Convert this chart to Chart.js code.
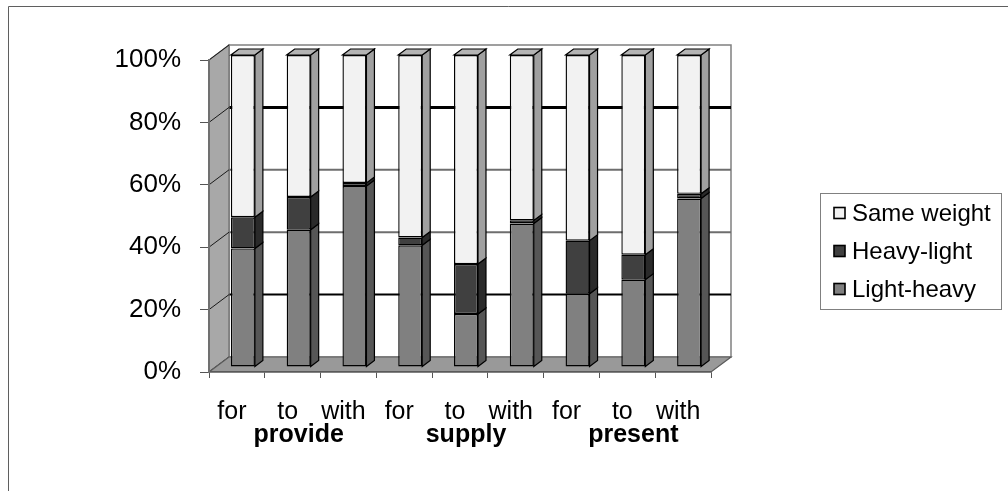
<!DOCTYPE html>
<html>
<head>
<meta charset="utf-8">
<script src="https://cdn.jsdelivr.net/npm/chart.js@4.4.1/dist/chart.umd.min.js"></script>
<style>
  html, body { margin: 0; padding: 0; background: #fff; }
  #wrap { width: 1008px; height: 491px; position: relative; }
</style>
</head>
<body>
<div id="wrap"><canvas id="chart" width="1008" height="491"></canvas></div>
<script>
// Preposition categories, grouped by verb
const categories = ['for', 'to', 'with', 'for', 'to', 'with', 'for', 'to', 'with'];
const groups = ['provide', 'supply', 'present'];

// Share of each weight pattern (percent of each bar)
const lightHeavy  = [38, 44, 58, 39, 17, 46, 23.5, 28, 54];
const heavyLight  = [10, 10.5, 1, 2.5, 16, 1, 17, 8, 1.5];
const sameWeight  = [52, 45.5, 41, 58.5, 67, 53, 59.5, 64, 44.5];

// Value-axis ticks
const yTicks = [0, 20, 40, 60, 80, 100];

const FONT = "'Liberation Sans', Arial, sans-serif";
Chart.defaults.font.family = FONT;
Chart.defaults.color = '#000';

// Group names sit under the middle preposition of each verb
const groupTicks = categories.map((c, i) => (i % 3 === 1 ? groups[(i - 1) / 3] : ''));

// 3D look: depth of the box, bar offset inside it, and bar thickness
const WALL = { dx: 20, dy: -15 };
const SHIFT = { dx: 6, dy: -5 };
const BAR = { dx: 8, dy: -6 };

const series = [
  { label: 'Light-heavy', data: lightHeavy, front: '#808080', side: '#565656', top: '#6a6a6a' },
  { label: 'Heavy-light', data: heavyLight, front: '#404040', side: '#2a2a2a', top: '#333333' },
  { label: 'Same weight', data: sameWeight, front: '#f2f2f2', side: '#a0a0a0', top: '#b4b4b4' }
];

// Back-wall gridline styling per value
const gridStyle = {
  20: { color: '#000000', width: 2 },
  40: { color: '#6e6e6e', width: 2 },
  60: { color: '#6e6e6e', width: 2 },
  80: { color: '#000000', width: 3 }
};

function poly(ctx, pts, fill, stroke, lw) {
  ctx.beginPath();
  ctx.moveTo(pts[0][0], pts[0][1]);
  for (let i = 1; i < pts.length; i++) ctx.lineTo(pts[i][0], pts[i][1]);
  ctx.closePath();
  if (fill) { ctx.fillStyle = fill; ctx.fill(); }
  if (stroke) { ctx.strokeStyle = stroke; ctx.lineWidth = lw || 1; ctx.stroke(); }
}

const box3d = {
  id: 'box3d',
  beforeDraw(chart) {
    const { ctx, chartArea: a, scales: { y } } = chart;
    ctx.save();
    // back wall
    poly(ctx, [[a.left + WALL.dx, a.top + WALL.dy], [a.right + WALL.dx, a.top + WALL.dy],
               [a.right + WALL.dx, a.bottom + WALL.dy], [a.left + WALL.dx, a.bottom + WALL.dy]],
         '#ffffff', '#808080', 1.5);
    // gridlines across the back wall
    yTicks.forEach(v => {
      const st = gridStyle[v];
      if (!st) return;
      const py = y.getPixelForValue(v);
      ctx.beginPath();
      ctx.moveTo(a.left + WALL.dx, py + WALL.dy);
      ctx.lineTo(a.right + WALL.dx, py + WALL.dy);
      ctx.strokeStyle = st.color; ctx.lineWidth = st.width; ctx.stroke();
    });
    // left wall with its diagonal gridlines
    poly(ctx, [[a.left, a.bottom], [a.left, a.top], [a.left + WALL.dx, a.top + WALL.dy],
               [a.left + WALL.dx, a.bottom + WALL.dy]], '#a8a8a8', '#6e6e6e', 1.2);
    yTicks.forEach(v => {
      const py = y.getPixelForValue(v);
      ctx.beginPath();
      ctx.moveTo(a.left, py);
      ctx.lineTo(a.left + WALL.dx, py + WALL.dy);
      ctx.strokeStyle = '#1a1a1a'; ctx.lineWidth = 1; ctx.stroke();
    });
    // floor
    poly(ctx, [[a.left, a.bottom], [a.right, a.bottom], [a.right + WALL.dx, a.bottom + WALL.dy],
               [a.left + WALL.dx, a.bottom + WALL.dy]], '#999999', '#5a5a5a', 1.2);
    ctx.restore();
  },
  beforeDatasetsDraw(chart) {
    chart.ctx.save();
    chart.ctx.translate(SHIFT.dx, SHIFT.dy);
  },
  afterDatasetsDraw(chart) {
    const ctx = chart.ctx;
    ctx.restore();
    ctx.save();
    const last = chart.data.datasets.length - 1;
    chart.data.datasets.forEach((ds, di) => {
      const meta = chart.getDatasetMeta(di);
      meta.data.forEach(el => {
        const p = el.getProps(['x', 'y', 'base', 'width'], true);
        const l = p.x - p.width / 2 + SHIFT.dx;
        const r = p.x + p.width / 2 + SHIFT.dx;
        const t = Math.min(p.y, p.base) + SHIFT.dy;
        const b = Math.max(p.y, p.base) + SHIFT.dy;
        poly(ctx, [[r, b], [r, t], [r + BAR.dx, t + BAR.dy], [r + BAR.dx, b + BAR.dy]],
             ds.sideColor, '#000', 1.2);
        if (di === last) {
          poly(ctx, [[l, t], [r, t], [r + BAR.dx, t + BAR.dy], [l + BAR.dx, t + BAR.dy]],
               ds.topColor, '#000', 1.2);
        }
      });
    });
    ctx.restore();
  },
  afterDraw(chart) {
    const ctx = chart.ctx;
    ctx.save();
    // outer frame
    ctx.beginPath();
    ctx.moveTo(8.5, 491);
    ctx.lineTo(8.5, 6.5);
    ctx.lineTo(1008, 6.5);
    ctx.strokeStyle = '#5f5f5f'; ctx.lineWidth = 1; ctx.stroke();
    // legend
    ctx.strokeStyle = '#808080'; ctx.lineWidth = 1;
    ctx.strokeRect(820.5, 193.5, 181, 116);
    const items = chart.data.datasets.slice().reverse();
    ctx.font = '24px ' + FONT;
    ctx.textBaseline = 'middle';
    ctx.textAlign = 'left';
    items.forEach((ds, i) => {
      const cy = 213 + i * 38;
      ctx.fillStyle = ds.backgroundColor;
      ctx.fillRect(834, cy - 5.5, 11, 11);
      ctx.strokeStyle = '#000'; ctx.lineWidth = 1.6;
      ctx.strokeRect(834, cy - 5.5, 11, 11);
      ctx.fillStyle = '#000';
      ctx.fillText(ds.label, 852, cy + 1);
    });
    ctx.restore();
  }
};

new Chart(document.getElementById('chart'), {
  type: 'bar',
  data: {
    labels: categories,
    datasets: series.map(s => ({
      label: s.label,
      data: s.data,
      backgroundColor: s.front,
      sideColor: s.side,
      topColor: s.top,
      borderColor: '#000',
      borderWidth: 1.4,
      borderSkipped: false,
      barPercentage: 0.43,
      categoryPercentage: 1,
      clip: false
    }))
  },
  options: {
    responsive: false,
    animation: false,
    events: [],
    layout: { padding: { left: 0, right: 297, top: 60, bottom: 28 } },
    plugins: { legend: { display: false }, tooltip: { enabled: false } },
    scales: {
      x: {
        stacked: true,
        offset: true,
        grid: { display: true, drawOnChartArea: false, drawTicks: true, tickLength: 6, offset: true, color: '#555', lineWidth: 1 },
        border: { display: true, color: '#5a5a5a', width: 1.5 },
        ticks: { font: { size: 25 }, color: '#000', padding: 19, labelOffset: -5, maxRotation: 0, minRotation: 0, autoSkip: false },
        afterFit(s) { s.height = 51; }
      },
      x2: {
        type: 'category',
        labels: groupTicks,
        position: 'bottom',
        offset: true,
        grid: { display: false, drawTicks: false },
        border: { display: false },
        ticks: { font: { size: 25, weight: 'bold' }, color: '#000', padding: -3, labelOffset: 6, maxRotation: 0, minRotation: 0, autoSkip: false },
        afterFit(s) { s.height = 40; }
      },
      y: {
        stacked: true,
        min: 0,
        max: 100,
        afterBuildTicks(s) { s.ticks = yTicks.map(v => ({ value: v })); },
        ticks: { callback: v => v + '%', font: { size: 26 }, color: '#000', padding: 19 },
        grid: { drawOnChartArea: false, drawTicks: true, tickLength: 9, color: '#555', lineWidth: 1 },
        border: { display: true, color: '#707070', width: 2 },
        afterFit(s) { s.width = 209; }
      }
    }
  },
  plugins: [box3d]
});
</script>
</body>
</html>
